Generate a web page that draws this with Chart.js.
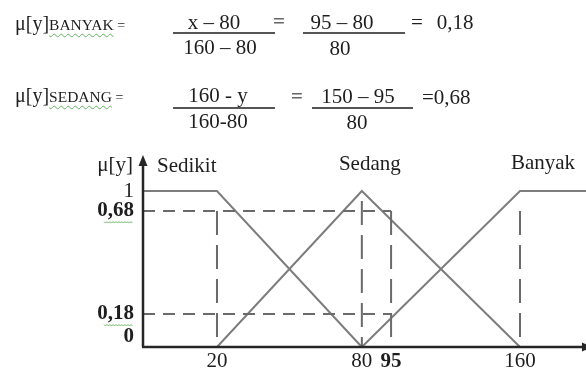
<!DOCTYPE html>
<html><head><meta charset="utf-8">
<script src="https://cdn.jsdelivr.net/npm/chart.js@4"></script>
<style>
html,body{margin:0;padding:0;background:#fff;}
#wrap{position:relative;width:586px;height:369px;overflow:hidden;font-family:'Liberation Serif','Times New Roman',serif;color:#1e1e1e;}
#c{position:absolute;left:0;top:0;}
.t{position:absolute;white-space:nowrap;font-size:21px;line-height:1;transform:translate(-50%,-50%);}
.r{position:absolute;white-space:nowrap;font-size:21px;line-height:1;transform:translate(0,-50%);}
.l{position:absolute;white-space:nowrap;font-size:20px;line-height:1;}
.sc{font-size:15.5px;text-decoration:underline wavy #62b562;text-decoration-thickness:1px;text-underline-offset:3px;}
.eq{font-weight:bold;color:#666;}
.bar{position:absolute;height:2px;background:#555;}
</style></head>
<body><div id="wrap"><canvas id="c" width="586" height="369"></canvas>
<div class="l" style="left:15px;top:13px">μ[y]<span class="sc">BANYAK</span><span style="font-size:14px"> =</span></div>
<div class="t" style="left:214px;top:22px">x – 80</div>
<div class="bar" style="left:173px;top:32px;width:102px"></div>
<div class="t" style="left:220px;top:47px">160 – 80</div>
<div class="t eq" style="left:279px;top:21px">=</div>
<div class="t" style="left:342px;top:22px">95 – 80</div>
<div class="bar" style="left:303px;top:32px;width:102px"></div>
<div class="t" style="left:340px;top:48px">80</div>
<div class="t" style="left:417px;top:22px">=</div>
<div class="t" style="left:455px;top:22px">0,18</div>

<div class="l" style="left:15px;top:85px">μ[y]<span class="sc">SEDANG</span><span style="font-size:14px"> =</span></div>
<div class="t" style="left:218px;top:95px">160 - y</div>
<div class="bar" style="left:173px;top:107px;width:102px"></div>
<div class="t" style="left:218px;top:121px">160-80</div>
<div class="t eq" style="left:297px;top:96px">=</div>
<div class="t" style="left:358px;top:96px">150 – 95</div>
<div class="bar" style="left:312px;top:107px;width:101px"></div>
<div class="t" style="left:357px;top:122px">80</div>
<div class="r" style="left:422px;top:97px">=0,68</div>
</div>
<script>
// ---- data ----
const xTicks = [20, 80, 95, 160];
const yTicks = [0, 0.18, 0.68, 1];
const boldXTicks = [95];
const boldYTicks = [0, 0.18, 0.68];
const setNames = ['Sedikit', 'Sedang', 'Banyak'];
const sedikitX = [0, 20, 80];
const sedikitMu = [1, 1, 0];
const sedangX = [20, 80, 160];
const sedangMu = [0, 1, 0];
const banyakX = [80, 160, 200];
const banyakMu = [0, 1, 1];
const inputY = 95;
const muBanyak = 0.18;
const muSedang = 0.68;
const xMax = 200;
const yMax = 1.25;

// ---- schematic (non-uniform) axis mapping: value -> fraction of axis length ----
const X_BREAKS = [[0, 0], [20, 0.167], [80, 0.494], [95, 0.56], [160, 0.851], [200, 1]];
const Y_BREAKS = [[0, 0], [0.18, 0.172], [0.68, 0.708], [1, 0.8125], [1.25, 1]];
function toDec(bp, v) {
  if (v <= bp[0][0]) return bp[0][1] + (v - bp[0][0]) * (bp[1][1] - bp[0][1]) / (bp[1][0] - bp[0][0]);
  for (let i = 1; i < bp.length; i++) {
    if (v <= bp[i][0]) {
      const a = bp[i - 1], b = bp[i];
      return a[1] + (v - a[0]) * (b[1] - a[1]) / (b[0] - a[0]);
    }
  }
  const a = bp[bp.length - 2], b = bp[bp.length - 1];
  return b[1] + (v - b[0]) * (b[1] - a[1]) / (b[0] - a[0]);
}
function fromDec(bp, d) {
  for (let i = 1; i < bp.length; i++) {
    if (d <= bp[i][1] || i === bp.length - 1) {
      const a = bp[i - 1], b = bp[i];
      return a[0] + (d - a[1]) * (b[0] - a[0]) / (b[1] - a[1]);
    }
  }
}
const LinearBase = Chart.LinearScale || Chart.registry.getScale('linear');
class PiecewiseScale extends LinearBase {
  _bp() { return this.axis === 'x' ? X_BREAKS : Y_BREAKS; }
  getPixelForValue(value) {
    if (value === null || value === undefined || isNaN(value)) return NaN;
    return this.getPixelForDecimal(toDec(this._bp(), value));
  }
  getValueForPixel(pixel) {
    return fromDec(this._bp(), this.getDecimalForPixel(pixel));
  }
}
PiecewiseScale.id = 'piecewise';
PiecewiseScale.defaults = LinearBase.defaults;
Chart.register(PiecewiseScale);

const pts = (xs, ys) => xs.map((x, i) => ({x: x, y: ys[i]}));
const solid = (xs, ys) => ({data: pts(xs, ys), borderColor: '#7d7d7d', borderWidth: 2, pointRadius: 0, fill: false, tension: 0, clip: false});
const dashH = (x0, x1, y) => ({data: [{x: x0, y: y}, {x: x1, y: y}], borderColor: '#6a6a6a', borderWidth: 2, borderDash: [12, 8], pointRadius: 0, fill: false, clip: false});
const dashV = (x, y0, y1, off) => ({data: [{x: x, y: y0}, {x: x, y: y1}], borderColor: '#6a6a6a', borderWidth: 2, borderDash: [24, 10], borderDashOffset: off || 0, pointRadius: 0, fill: false, clip: false});

const datasets = [
  dashH(0, inputY, muSedang),
  dashH(0, inputY, muBanyak),
  dashV(20, muSedang, 0),
  dashV(80, 1, 0, 24),
  dashV(inputY, muSedang, 0),
  dashV(160, muSedang, 0),
  solid(sedikitX, sedikitMu),
  solid(sedangX, sedangMu),
  solid(banyakX, banyakMu)
];

const FONT = "'Liberation Serif','Times New Roman',serif";
const fmt = v => String(v).replace('.', ',');

const overlay = {
  id: 'overlay',
  afterDraw(chart) {
    const {ctx, chartArea: a, scales} = chart;
    const xs = scales.x, ys = scales.y;
    ctx.save();
    // axes with arrowheads
    ctx.strokeStyle = '#262626';
    ctx.fillStyle = '#262626';
    ctx.lineWidth = 2.5;
    ctx.beginPath();
    ctx.moveTo(a.left, a.bottom); ctx.lineTo(a.left, a.top + 8);
    ctx.moveTo(a.left - 1, a.bottom); ctx.lineTo(a.right - 3, a.bottom);
    ctx.stroke();
    ctx.beginPath();
    ctx.moveTo(a.left, a.top); ctx.lineTo(a.left - 4.5, a.top + 11); ctx.lineTo(a.left + 4.5, a.top + 11); ctx.closePath(); ctx.fill();
    ctx.beginPath();
    ctx.moveTo(a.right + 7, a.bottom); ctx.lineTo(a.right - 4, a.bottom - 4.5); ctx.lineTo(a.right - 4, a.bottom + 4.5); ctx.closePath(); ctx.fill();
    // axis title and set names
    ctx.fillStyle = '#1e1e1e';
    ctx.font = '21px ' + FONT;
    ctx.textBaseline = 'alphabetic';
    ctx.textAlign = 'right';
    ctx.fillText('μ[y]', a.left - 10, a.top + 16);
    ctx.textAlign = 'left';
    ctx.fillText(setNames[0], a.left + 14, a.top + 17);
    ctx.textAlign = 'center';
    ctx.fillText(setNames[1], xs.getPixelForValue(80) + 8, a.top + 15);
    ctx.fillText(setNames[2], xs.getPixelForValue(160) + 23, a.top + 14);
    // spell-check squiggles under the bold decimal tick labels
    ctx.strokeStyle = '#69b869';
    ctx.lineWidth = 1;
    [muSedang, muBanyak].forEach(v => {
      const yy = ys.getPixelForValue(v) + 11;
      const x1 = a.left - 10, x0 = x1 - 29;
      ctx.beginPath();
      for (let x = x0, k = 0; x <= x1; x += 1.5, k++) {
        const y = yy + (k % 2 ? 1 : -0.5);
        if (k === 0) ctx.moveTo(x, y); else ctx.lineTo(x, y);
      }
      ctx.stroke();
    });
    ctx.restore();
  }
};

new Chart(document.getElementById('c'), {
  type: 'line',
  data: {datasets: datasets},
  options: {
    responsive: false,
    animation: false,
    events: [],
    layout: {padding: {top: 155, left: 0, right: 0, bottom: 0}},
    plugins: {legend: {display: false}, tooltip: {enabled: false}, title: {display: false}},
    scales: {
      x: {
        type: 'piecewise', position: 'bottom', min: 0, max: xMax,
        grid: {display: false, drawTicks: false}, border: {display: false},
        afterBuildTicks: s => { s.ticks = xTicks.map(v => ({value: v})); },
        afterFit: s => { s.height = 22; s.paddingLeft = 0; s.paddingRight = 0; },
        ticks: {
          padding: 2, maxRotation: 0, autoSkip: false, color: '#1e1e1e',
          callback: v => fmt(v),
          font: c => ({family: FONT, size: 21, weight: (c.tick && boldXTicks.includes(c.tick.value)) ? 'bold' : 'normal'})
        }
      },
      y: {
        type: 'piecewise', position: 'left', min: 0, max: yMax,
        grid: {display: false, drawTicks: false}, border: {display: false},
        afterBuildTicks: s => { s.ticks = yTicks.map(v => ({value: v})); },
        afterFit: s => { s.width = 143; s.paddingTop = 0; s.paddingBottom = 0; },
        ticks: {
          padding: 9, autoSkip: false, color: '#1e1e1e',
          callback: v => v === 0 ? ['0', '', ''] : fmt(v),
          font: c => ({family: FONT, size: 21, lineHeight: 0.5, weight: (c.tick && boldYTicks.includes(c.tick.value)) ? 'bold' : 'normal'})
        }
      }
    }
  },
  plugins: [overlay]
});
</script>
</body></html>
